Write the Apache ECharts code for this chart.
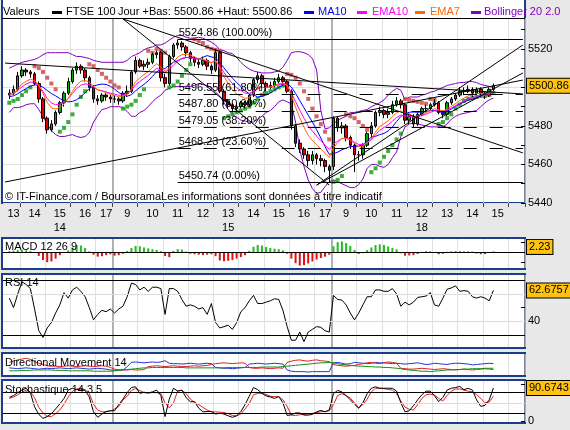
<!DOCTYPE html>
<html>
<head>
<meta charset="utf-8">
<script src="https://cdn.jsdelivr.net/npm/echarts@6/dist/echarts.min.js"></script>
<style>
html, body { margin: 0; padding: 0; background: #e8e8e8; }
#chart { width: 570px; height: 430px; }
</style>
</head>
<body>
<div id="chart"></div>
<script>
// 10 minute bars, three trading days
const sessions = [
  { day: '14', from: '13:20', to: '17:30', dayLabelHour: 15, labelUntil: 17 },
  { day: '15', from: '09:00', to: '17:30', dayLabelHour: 13, labelUntil: 17 },
  { day: '18', from: '09:00', to: '16:30', dayLabelHour: 12, labelUntil: 15 },
];
const firstBar = '14 13:30';

const opens = [
  5496, 5497, 5499, 5506, 5509, 5508, 5507, 5502, 5494, 5484,
  5478, 5481, 5487, 5492, 5497, 5503, 5509, 5511, 5509, 5505,
  5500, 5494, 5493, 5496, 5495, 5494, 5494, 5493, 5497, 5498,
  5508, 5514, 5511, 5512, 5513, 5517, 5518, 5505, 5502, 5516,
  5522, 5523, 5521, 5518, 5515, 5513, 5512, 5514, 5511, 5509,
  5518, 5498, 5493, 5491, 5489, 5490, 5492, 5491, 5496, 5504,
  5506, 5502, 5500, 5501, 5503, 5505, 5503, 5498, 5480, 5471,
  5468, 5465, 5462, 5465, 5463, 5462, 5459, 5459, 5484, 5479,
  5480, 5474, 5470, 5465, 5465, 5470, 5476, 5480, 5487, 5488,
  5486, 5487, 5491, 5493, 5491, 5483, 5485, 5481, 5486, 5489,
  5489, 5491, 5492, 5487, 5486, 5492, 5494, 5496, 5498, 5498,
  5499, 5497, 5499, 5497, 5496, 5499];
const closes = [
  5497, 5499, 5506, 5509, 5508, 5507, 5502, 5494, 5484, 5478,
  5481, 5487, 5492, 5497, 5503, 5509, 5511, 5509, 5505, 5500,
  5494, 5493, 5496, 5495, 5494, 5494, 5493, 5497, 5498, 5508,
  5514, 5511, 5512, 5513, 5517, 5518, 5505, 5502, 5516, 5522,
  5523, 5521, 5518, 5515, 5513, 5512, 5514, 5511, 5509, 5518,
  5498, 5493, 5491, 5489, 5490, 5492, 5491, 5496, 5504, 5506,
  5502, 5500, 5501, 5503, 5505, 5503, 5498, 5480, 5471, 5468,
  5465, 5462, 5465, 5463, 5462, 5459, 5457, 5484, 5479, 5480,
  5474, 5470, 5465, 5465, 5470, 5476, 5480, 5487, 5488, 5486,
  5487, 5491, 5493, 5491, 5483, 5485, 5481, 5486, 5489, 5489,
  5491, 5492, 5487, 5486, 5492, 5494, 5496, 5498, 5498, 5499,
  5497, 5499, 5497, 5496, 5499, 5500.86];
const lows = [
  5494, 5496, 5498, 5505, 5506, 5505, 5501, 5492, 5482, 5476,
  5477, 5480, 5486, 5490, 5496, 5502, 5507, 5507, 5503, 5498,
  5492, 5491, 5492, 5493, 5492, 5492, 5491, 5492, 5495, 5497,
  5507, 5510, 5509, 5510, 5512, 5515, 5503, 5500, 5501, 5515,
  5520, 5519, 5516, 5513, 5511, 5510, 5511, 5509, 5507, 5508,
  5497, 5491, 5489, 5487, 5487, 5489, 5489, 5490, 5495, 5502,
  5500, 5498, 5499, 5500, 5502, 5501, 5497, 5478, 5469, 5466,
  5463, 5459, 5460, 5460, 5459, 5456, 5450.74, 5457, 5477, 5476,
  5472, 5468, 5456, 5462, 5463, 5469, 5474, 5479, 5485, 5484,
  5484, 5486, 5490, 5489, 5481, 5481, 5479, 5480, 5485, 5487,
  5488, 5490, 5486, 5484, 5485, 5491, 5493, 5495, 5496, 5497,
  5495, 5496, 5495, 5494, 5495, 5498];
const highs = [
  5499, 5501, 5508, 5511, 5510, 5509, 5508, 5503, 5495, 5485,
  5483, 5488, 5493, 5498, 5505, 5510, 5513, 5512, 5510, 5506,
  5501, 5496, 5497, 5497, 5496, 5496, 5495, 5498, 5501, 5509,
  5516, 5515, 5514, 5515, 5518, 5519, 5519, 5507, 5517, 5523,
  5524.86, 5524, 5522, 5519, 5516, 5515, 5516, 5515, 5512, 5520,
  5519, 5499, 5494, 5492, 5492, 5493, 5493, 5497, 5505, 5508,
  5507, 5503, 5503, 5505, 5507, 5506, 5504, 5499, 5481, 5473,
  5469, 5467, 5467, 5466, 5465, 5463, 5460, 5485, 5485, 5482,
  5481, 5475, 5471, 5467, 5471, 5477, 5482, 5488, 5490, 5489,
  5489, 5493, 5495, 5494, 5492, 5487, 5486, 5487, 5490, 5491,
  5492, 5494, 5493, 5488, 5493, 5495, 5497, 5500, 5500, 5501,
  5500, 5500, 5500, 5498, 5500, 5502];

const ma10 = [
  5495.2, 5495.6, 5496.7, 5498.1, 5499.4, 5500.6, 5501.3, 5501.2, 5500.1, 5498.4,
  5496.8, 5495.6, 5494.2, 5493.0, 5492.5, 5492.7, 5493.6, 5495.1, 5497.2, 5499.4,
  5500.7, 5501.3, 5501.7, 5501.5, 5500.6, 5499.1, 5497.3, 5496.1, 5495.4, 5496.2,
  5498.2, 5500.0, 5501.6, 5503.4, 5505.7, 5508.1, 5509.3, 5509.8, 5511.6, 5513.0,
  5513.9, 5514.9, 5515.5, 5515.7, 5515.3, 5514.7, 5515.6, 5516.5, 5515.8, 5515.4,
  5512.9, 5510.1, 5507.4, 5504.8, 5502.5, 5500.5, 5498.2, 5496.7, 5496.2, 5495.0,
  5495.4, 5496.1, 5497.1, 5498.5, 5500.0, 5501.1, 5501.8, 5500.2, 5496.9, 5493.1,
  5489.4, 5485.6, 5482.0, 5478.0, 5473.7, 5469.3, 5465.2, 5465.6, 5466.4, 5467.6,
  5468.5, 5469.3, 5469.3, 5469.5, 5470.3, 5472.0, 5474.3, 5474.6, 5475.5, 5476.1,
  5477.4, 5479.5, 5482.3, 5484.9, 5486.2, 5487.1, 5487.2, 5487.1, 5487.2, 5487.5,
  5487.9, 5488.0, 5487.4, 5486.9, 5487.8, 5488.7, 5490.2, 5491.4, 5492.3, 5493.3,
  5493.9, 5494.6, 5495.6, 5496.6, 5497.3, 5498.0];
const ema10 = [
  5496.2, 5496.7, 5498.4, 5500.3, 5501.7, 5502.7, 5502.6, 5501.0, 5497.9, 5494.3,
  5491.9, 5491.0, 5491.2, 5492.2, 5494.2, 5496.8, 5499.4, 5501.1, 5501.8, 5501.5,
  5500.1, 5498.8, 5498.3, 5497.7, 5497.0, 5496.5, 5495.9, 5496.1, 5496.4, 5498.5,
  5501.3, 5503.1, 5504.7, 5506.2, 5508.1, 5509.9, 5509.0, 5507.8, 5509.3, 5511.6,
  5513.6, 5515.0, 5515.5, 5515.4, 5515.0, 5514.4, 5514.3, 5513.7, 5512.9, 5513.8,
  5511.0, 5507.7, 5504.7, 5501.9, 5499.8, 5498.4, 5497.0, 5496.8, 5498.1, 5499.5,
  5500.0, 5500.0, 5500.2, 5500.7, 5501.5, 5501.7, 5501.1, 5497.3, 5492.6, 5488.1,
  5484.0, 5480.0, 5477.3, 5474.7, 5472.4, 5470.0, 5467.7, 5470.6, 5472.1, 5473.5,
  5473.6, 5473.0, 5471.5, 5470.4, 5470.3, 5471.3, 5472.9, 5475.4, 5477.7, 5479.2,
  5480.6, 5482.5, 5484.4, 5485.6, 5485.1, 5485.1, 5484.4, 5484.7, 5485.4, 5486.1,
  5487.0, 5487.9, 5487.7, 5487.4, 5488.2, 5489.3, 5490.5, 5491.8, 5493.0, 5494.1,
  5494.6, 5495.4, 5495.7, 5495.7, 5496.3, 5497.1];
const ema7 = [
  5496.3, 5497.0, 5499.2, 5501.7, 5503.2, 5504.2, 5503.6, 5501.2, 5496.9, 5492.2,
  5489.4, 5488.8, 5489.6, 5491.4, 5494.3, 5498.0, 5501.2, 5503.2, 5503.6, 5502.7,
  5500.6, 5498.7, 5498.0, 5497.2, 5496.4, 5495.8, 5495.1, 5495.6, 5496.2, 5499.2,
  5502.9, 5504.9, 5506.7, 5508.2, 5510.4, 5512.3, 5510.5, 5508.4, 5510.3, 5513.2,
  5515.7, 5517.0, 5517.2, 5516.7, 5515.8, 5514.8, 5514.6, 5513.7, 5512.5, 5513.9,
  5509.9, 5505.7, 5502.0, 5498.8, 5496.6, 5495.4, 5494.3, 5494.7, 5497.1, 5499.3,
  5500.0, 5500.0, 5500.2, 5500.9, 5501.9, 5502.2, 5501.2, 5495.9, 5489.7, 5484.2,
  5479.4, 5475.1, 5472.5, 5470.2, 5468.1, 5465.8, 5463.6, 5468.7, 5471.3, 5473.5,
  5473.6, 5472.7, 5470.8, 5469.3, 5469.5, 5471.1, 5473.3, 5476.8, 5479.6, 5481.2,
  5482.6, 5484.7, 5486.8, 5487.8, 5486.6, 5486.2, 5484.9, 5485.2, 5486.1, 5486.8,
  5487.9, 5488.9, 5488.4, 5487.8, 5488.9, 5490.2, 5491.6, 5493.2, 5494.4, 5495.6,
  5495.9, 5496.7, 5496.8, 5496.6, 5497.2, 5498.1];
const bollUp = [
  5510, 5511, 5512, 5513, 5513.5, 5514, 5514.5, 5515.5, 5517, 5518,
  5518, 5518, 5518, 5518, 5518, 5517, 5516, 5516, 5515.5, 5515,
  5514, 5513.5, 5513, 5513, 5513, 5513, 5513, 5513, 5514, 5516,
  5517, 5518, 5519.5, 5520.5, 5521, 5522, 5522, 5523, 5524.5, 5526,
  5527, 5527, 5526, 5525.5, 5525.5, 5526, 5525.5, 5524.5, 5523.5, 5522,
  5519.5, 5519, 5518, 5517.5, 5515.5, 5513, 5511, 5509.5, 5508.5, 5508,
  5507.5, 5507.5, 5507.5, 5508, 5508.5, 5510.5, 5514, 5518, 5518.5, 5518.5,
  5518, 5517, 5515, 5509, 5488, 5478.5, 5479, 5481, 5483, 5484,
  5485, 5487, 5487, 5487.5, 5488, 5488.5, 5490, 5491, 5492, 5493.5,
  5496, 5498, 5499.5, 5498.5, 5493.5, 5495, 5495, 5495, 5496, 5496.5,
  5497.5, 5498, 5499, 5500, 5501, 5501.5, 5502, 5502.5, 5502.5, 5503,
  5503, 5502.5, 5501.5, 5501, 5500.5, 5500];
const bollLow = [
  5487, 5489.5, 5489.5, 5490, 5491, 5491.5, 5491.5, 5488.5, 5485, 5481,
  5477.5, 5475.5, 5474.5, 5474.5, 5475, 5475.5, 5474.5, 5474, 5474.5, 5476.5,
  5482, 5485.5, 5488.5, 5489, 5490, 5490, 5490, 5489.5, 5487.5, 5485,
  5485, 5487, 5488, 5490, 5492.5, 5494.5, 5496, 5498.5, 5499.5, 5500.5,
  5500.5, 5500.5, 5500.5, 5500.5, 5501, 5502, 5501.5, 5501, 5500, 5497.5,
  5495.5, 5492, 5488.5, 5486, 5484.5, 5483, 5482.5, 5482, 5482, 5483.5,
  5485, 5487, 5488, 5490, 5492.5, 5493.5, 5492.5, 5491.5, 5482, 5467.5,
  5459, 5452, 5447.5, 5445, 5445.5, 5448.5, 5451, 5452, 5451, 5450,
  5449, 5448, 5448, 5449.5, 5452.5, 5458, 5460, 5460, 5459, 5458.5,
  5460, 5463.5, 5466.5, 5474.5, 5479.5, 5481, 5481.5, 5481, 5480.5, 5480,
  5479.5, 5479.5, 5479.5, 5479.5, 5481, 5483.5, 5485, 5486, 5486.5, 5487,
  5487.5, 5488, 5490, 5492, 5493.5, 5494.5];
// parabolic SAR
const sar = [
  5492, 5493, 5494, 5496, 5498, 5500, 5511, 5510, 5508, 5505,
  5502, 5499, 5477, 5479, 5482, 5486, 5491, 5495, 5498, 5512,
  5511, 5509, 5507, 5505, 5503, 5501, 5500, 5489, 5490, 5491,
  5493, 5496, 5499, 5519, 5518, 5520, 5519, 5518, 5500, 5501,
  5503, 5506, 5509, 5512, 5525, 5524, 5523, 5521, 5520, 5519.5,
  5519, 5484, 5485, 5486, 5487, 5488, 5489, 5490, 5492, 5494,
  5496, 5497, 5498, 5499, 5500, 5501, 5507, 5506.5, 5505, 5502,
  5498, 5494, 5489, 5485, 5481, 5477, 5473, 5451, 5452, 5454,
  5486, 5485, 5484, 5482, 5480, 5478, 5456, 5458, 5461, 5464,
  5467, 5470, 5473, 5476, 5494, 5493.5, 5493, 5492.5, 5492, 5491.5,
  5494, 5493.5, 5481, 5482, 5484, 5486, 5489, 5491, 5493, 5494,
  5494.5, 5495, 5495.5, 5495.5, 5496, 5497];

const fibLevels = [5524.86, 5496.55, 5487.80, 5479.05, 5468.23, 5450.74];
const fibPct = ['100.00%', '61.80%', '50.00%', '38.20%', '23.60%', '0.00%'];
const fibFrom = '15 11:30';
// trend lines: [from category, value, to category, value]
const trendLines = [
  ['14 13:20', 5512.6, '18 16:30', 5496.6],
  ['14 13:20', 5450.9, '18 16:30', 5503.8],
  ['15 09:20', 5535.5, '18 16:30', 5466.0],
  ['15 09:20', 5535.5, '15 17:30', 5449.3],
  ['15 17:00', 5449.3, '18 16:30', 5522.0],
  ['15 17:00', 5449.3, '18 16:30', 5507.5],
];

const macdHist = [
  0.5, 0.7, 0.9, 1.0, 0.8, 0.5, 0.1, -1.5, -3.2, -4.1,
  -3.8, -2.6, -1.2, -0.3, 0.8, 2.0, 3.0, 2.8, 1.8, 0.4,
  -1.0, -1.8, -1.6, -1.2, -0.8, -1.4, -1.2, -0.6, 0.6, 1.8,
  2.6, 2.5, 2.0, 1.6, 1.3, 1.0, 0.5, -1.5, -2.0, 0.6,
  1.3, 1.1, 0.3, -0.6, -0.8, -1.0, -1.2, -1.0, -0.8, -1.6,
  -3.4, -3.7, -3.5, -3.2, -2.6, -2.0, -1.2, 0.6, 2.3, 3.0,
  2.8, 2.2, 1.8, 1.5, 1.3, 0.8, -0.6, -2.6, -4.5, -5.5,
  -5.3, -4.6, -3.8, -3.0, -2.4, -1.8, -1.0, 2.5, 4.2, 4.5,
  3.8, 2.6, 1.0, -0.7, -0.4, 0.9, 2.0, 3.0, 3.3, 3.0,
  2.4, 1.8, 1.2, -0.4, -1.4, -1.3, -1.2, -0.7, 0.2, 0.5,
  0.4, -0.3, -0.8, -0.6, 0.2, 0.4, 0.5, 0.5, 0.4, 0.4,
  0.3, -0.5, -0.8, -0.7, -0.3, 0.4];
const macdLast = 2.23;
const rsi = [
  57, 50, 60, 69, 67, 64, 49, 33, 28, 35,
  39, 46, 52, 61, 57, 63, 65, 62, 58, 50,
  41, 45, 48, 47, 49, 46, 49, 51, 58, 68,
  67, 63, 65, 62, 65, 65, 64, 45, 64, 64,
  62, 56, 51, 52, 51, 49, 50, 45, 53, 39,
  35, 36, 37, 34, 39, 47, 50, 55, 59, 53,
  53, 54, 55, 56.5, 56, 48, 36, 26, 26, 32,
  25, 32, 34, 36, 35.5, 33, 32, 59, 56, 55.5,
  52, 46, 41, 46, 52, 58, 58, 63, 63, 62,
  62, 64, 60, 51, 54, 52, 54, 57.5, 58, 58.5,
  61, 52, 51, 57, 63.5, 64.5, 66, 62, 62.5, 62,
  58, 57, 58, 57, 55, 62.6757];
const diPlus = [
  17, 16, 15, 16, 17, 16, 15, 14, 15, 16, 15, 16, 17, 16, 15, 16, 17, 16, 15, 14, 15, 16, 15, 14,
  12, 11, 12, 12, 20,
  30, 31, 30, 29, 30, 31, 30, 31, 34,
  28, 27, 27, 26, 27, 28, 27, 26, 27, 28, 27,
  18, 17, 16, 16, 15, 16, 17, 18,
  26, 27, 28, 27, 26, 27, 28, 27, 26,
  12, 9, 8, 8, 8, 7, 8, 8, 8, 8, 8,
  29, 30, 28, 26, 27, 30, 29, 28, 27, 28, 30, 29, 29, 28, 27, 28, 27, 26, 27, 28,
  29, 27, 25, 26, 28, 27, 26, 25, 27, 28, 28, 27, 26, 24, 25, 26, 27, 28, 27];
const diMinus = [
  30, 33, 36, 38, 40, 37, 32,
  28, 25, 22, 21, 21, 20, 21, 22, 21, 20, 21, 22, 21, 20, 21, 22, 21,
  18, 14, 12, 12, 12, 13, 12, 12, 13,
  20, 21, 22, 21, 20, 21, 22, 21, 20, 20, 21, 22, 21, 22, 23,
  25, 27, 28, 29, 28, 27, 28, 29, 28,
  18, 16, 16, 17, 16, 15, 16, 17, 16,
  30, 33, 35, 36, 34, 33, 35, 36, 34, 33, 32,
  25, 23, 22, 21, 22, 23, 25,
  27, 29, 30, 28, 27, 29, 31, 30, 28,
  16, 15, 14, 14, 15, 16, 15, 14, 13, 14, 15, 14, 13, 12, 13, 14, 13, 12, 13, 14, 15, 14, 13];
const adx = [
  10, 10, 10, 11, 11, 11, 12, 12, 12, 12, 12, 11, 11, 11, 10, 10, 10, 10, 10, 10, 9, 9, 9, 9, 9, 10, 11, 12,
  13, 14, 15, 16, 17, 17, 18, 18, 18, 18, 18, 18, 18, 18, 17, 17, 17, 17, 17, 17, 17, 17, 17, 17,
  18, 18, 18, 18, 18, 18, 18, 18, 19, 19, 19, 19, 19, 20, 21,
  22, 23, 24, 25, 26, 27, 28, 29, 29, 30,
  29, 27, 25, 24, 23, 22, 21, 21, 20, 20, 19, 19, 18, 18, 17, 16,
  15, 13, 12, 11, 10, 9, 9, 8, 9,
  10, 11, 12, 12, 13, 13, 14, 14, 15, 15, 15, 16, 16, 16];
const stochK = [
  65, 70, 78, 85, 90, 78, 39, 18, 7, 12,
  20, 33, 47, 62, 85, 90, 86, 88, 84, 66,
  25, 10, 19, 26, 28, 28, 45, 60, 78, 92,
  94, 76, 79, 77, 80, 85, 70, 12, 60, 90,
  82, 85, 64, 53, 53, 35, 25, 26, 26, 19,
  21, 19, 14, 10, 14, 26, 45, 68, 92, 86,
  76, 69, 66, 62, 67, 50, 15, 17, 22, 22,
  16, 16, 18, 25, 29, 25, 30, 75, 84, 80,
  70, 58, 46, 35, 50, 75, 90, 94, 90, 90,
  90, 90, 82, 50, 25, 28, 42, 58, 72, 82,
  82, 70, 53, 65, 85, 90, 92, 95, 86, 90,
  85, 58, 40, 43, 58, 90.6743];
const stochD = [
  62, 66, 72, 79, 85, 80, 64, 37, 22, 13,
  12, 20, 30, 46, 66, 82, 88, 90, 86, 76,
  46, 30, 25, 25, 27, 33, 40, 58, 68, 84,
  89, 84, 78, 77, 78, 78, 75, 50, 36, 50,
  83, 84, 76, 60, 51, 45, 37, 30, 25, 25,
  24, 23, 20, 15, 14, 19, 33, 48, 72, 76,
  76, 73, 68, 67, 67, 58, 40, 16, 15, 17,
  18, 19, 21, 23, 25, 26, 28, 45, 70, 75,
  70, 63, 50, 36, 45, 60, 80, 90, 90, 89,
  87, 85, 75, 55, 38, 32, 30, 45, 62, 72,
  74, 71, 62, 55, 70, 82, 88, 88, 85, 82,
  80, 73, 62, 50, 52, 68];

// ---- axis categories built from the sessions
const categories = [];
const hourStart = new Set();
const dayStart = new Set();
const labelText = {};
sessions.forEach((s, k) => {
  let [h, m] = s.from.split(':').map(Number);
  const [eh, em] = s.to.split(':').map(Number);
  const byHour = {};
  let first = true;
  while (h * 60 + m <= eh * 60 + em) {
    const idx = categories.length;
    categories.push(`${s.day} ${String(h).padStart(2, '0')}:${String(m).padStart(2, '0')}`);
    if (m === 0) hourStart.add(idx);
    if (k > 0 && first) dayStart.add(idx);
    first = false;
    (byHour[h] = byHour[h] || []).push(idx);
    m += 10;
    if (m === 60) { m = 0; h += 1; }
  }
  Object.keys(byHour).forEach((key) => {
    const hh = Number(key);
    if (hh > s.labelUntil) return;
    const list = byHour[key];
    labelText[list[Math.floor(list.length / 2)]] = String(hh) + (hh === s.dayLabelHour ? '\n' + s.day : '');
  });
});
const offset = categories.indexOf(firstBar);
const onAxis = (arr) => categories.map((c, i) => (i >= offset && i - offset < arr.length ? arr[i - offset] : '-'));

const FONT = 'Liberation Sans';
const BLUE_BORDER = '#1c3c8c';
const TAG = '#ffc20e';

const panels = [
  { top: 18, height: 185 },
  { top: 239, height: 29 },
  { top: 275, height: 72 },
  { top: 354, height: 21 },
  { top: 381, height: 41 },
];

const grid = panels.map((p) => ({ left: 3, width: 522, top: p.top, height: p.height }));

const xAxis = [];
panels.forEach((p, k) => {
  xAxis.push({
    type: 'category', gridIndex: k, data: categories, boundaryGap: true,
    axisLine: { show: false },
    axisTick: k === 0
      ? { show: true, interval: (i) => hourStart.has(i), length: 4, lineStyle: { color: '#444' } }
      : { show: false },
    axisLabel: k === 0
      ? {
        show: true, interval: (i) => labelText[i] !== undefined,
        formatter: (v, i) => labelText[i], fontSize: 11, lineHeight: 14, margin: 4, color: '#000',
      }
      : { show: false },
    splitLine: { show: true, interval: (i) => hourStart.has(i), lineStyle: { color: '#e0e0e0', width: 1 } },
  });
  xAxis.push({
    type: 'category', gridIndex: k, data: categories, boundaryGap: true,
    axisLine: { show: false }, axisTick: { show: false }, axisLabel: { show: false },
    splitLine: { show: true, interval: (i) => dayStart.has(i), lineStyle: { color: '#9c9c9c', width: 1.5 } },
  });
});

const sideLabel = { fontSize: 11, color: '#000', margin: 3 };
const innerTick = { show: true, inside: true, length: 4, lineStyle: { color: '#000' } };
const yAxis = [
  {
    type: 'value', gridIndex: 0, position: 'right', min: 5440, max: 5536, interval: 10,
    axisLine: { show: false }, axisTick: innerTick, splitLine: { show: false },
    axisLabel: { ...sideLabel, formatter: (v) => (v % 20 === 0 ? String(v) : '') },
  },
  {
    type: 'value', gridIndex: 0, min: 5440, max: 5536, interval: 20,
    axisLine: { show: false }, axisTick: { show: false }, axisLabel: { show: false },
    splitLine: { show: true, lineStyle: { color: '#e0e0e0' } },
  },
  {
    type: 'value', gridIndex: 1, position: 'right', min: -6.5, max: 5.5,
    axisLine: { show: false }, splitLine: { show: false },
    axisTick: { ...innerTick, customValues: [-4, 0, 4] },
    axisLabel: { ...sideLabel, customValues: [0] },
  },
  {
    type: 'value', gridIndex: 2, position: 'right', min: 21, max: 74,
    axisLine: { show: false }, splitLine: { show: false },
    axisTick: { ...innerTick, customValues: [40, 50, 60] },
    axisLabel: { ...sideLabel, customValues: [40] },
  },
  {
    type: 'value', gridIndex: 3, position: 'right', min: 0, max: 50,
    axisLine: { show: false }, splitLine: { show: false }, axisTick: { show: false }, axisLabel: { show: false },
  },
  {
    type: 'value', gridIndex: 4, position: 'right', min: -3, max: 110,
    axisLine: { show: false }, splitLine: { show: false },
    axisTick: { ...innerTick, customValues: [0, 50, 100] },
    axisLabel: { ...sideLabel, customValues: [0] },
  },
];

// value tag at the right of a panel
const tagLine = (value, text) => ({
  yAxis: value,
  lineStyle: { color: 'rgba(0,0,0,0)', width: 1 },
  label: {
    show: true, position: 'end', distance: 2, formatter: text,
    backgroundColor: TAG, borderColor: '#000', borderWidth: 1, padding: [2, 2, 1, 2],
    color: '#000', fontSize: 11, fontFamily: FONT,
  },
});
const hLine = (value, color) => ({ yAxis: value, lineStyle: { color, width: 1, type: 'solid' }, label: { show: false } });

const lastCat = categories[categories.length - 1];
const fibMarks = fibLevels.map((v, k) => [
  {
    coord: [fibFrom, v],
    lineStyle: { color: '#000', width: 1, type: (k === 0 || k === fibLevels.length - 1) ? 'solid' : [13, 13] },
    label: {
      show: true, position: 'insideStartTop', distance: 1,
      formatter: `${v.toFixed(2)} (${fibPct[k]})`, color: '#000', fontSize: 11, fontFamily: FONT,
    },
  },
  { coord: [lastCat, v] },
]);
const trendMarks = trendLines.map(([c1, v1, c2, v2]) => [
  { coord: [c1, v1], lineStyle: { color: '#000', width: 1, type: 'solid' }, label: { show: false } },
  { coord: [c2, v2] },
]);

const thin = (name, data, color, xi, yi, z) => ({
  name, type: 'line', data: onAxis(data), xAxisIndex: xi, yAxisIndex: yi,
  symbol: 'none', lineStyle: { color, width: 1 }, z: z || 3, silent: true,
});

const series = [
  {
    name: 'fib', type: 'line', data: onAxis([]), xAxisIndex: 0, yAxisIndex: 0, z: 1, silent: true,
    markLine: { symbol: 'none', silent: true, animation: false, data: fibMarks.concat(trendMarks) },
  },
  thin('BollUp', bollUp, '#8000c0', 0, 0, 2),
  thin('BollLow', bollLow, '#8000c0', 0, 0, 2),
  {
    name: 'SAR', type: 'scatter', data: onAxis(sar), xAxisIndex: 0, yAxisIndex: 0, z: 2,
    symbol: 'rect', symbolSize: 4, silent: true,
    itemStyle: {
      color: (p) => {
        const d = p.dataIndex - offset;
        return sar[d] > closes[d] ? '#cc4040' : '#0a9a0a';
      },
    },
  },
  {
    name: 'FTSE 100', type: 'candlestick', xAxisIndex: 0, yAxisIndex: 0, z: 3, barWidth: 3,
    data: onAxis(opens.map((o, k) => [o, closes[k], lows[k], highs[k]])),
    itemStyle: { color: '#00b000', color0: '#e00000', borderColor: '#000', borderColor0: '#000', borderWidth: 1 },
  },
  thin('MA10', ma10, '#0000ff', 0, 0, 4),
  thin('EMA10', ema10, '#ff00ff', 0, 0, 4),
  thin('EMA7', ema7, '#ff6600', 0, 0, 4),
  {
    name: 'last', type: 'line', data: onAxis([]), xAxisIndex: 0, yAxisIndex: 0, z: 10, silent: true,
    markLine: { symbol: 'none', silent: true, animation: false, data: [tagLine(closes[closes.length - 1], closes[closes.length - 1].toFixed(2))] },
  },
  {
    name: 'MACD', type: 'bar', data: onAxis(macdHist), xAxisIndex: 2, yAxisIndex: 2, barWidth: 2, silent: true,
    itemStyle: { color: (p) => (p.value >= 0 ? '#22bb22' : '#dd1111') },
    markLine: { symbol: 'none', silent: true, animation: false, data: [hLine(0, '#000'), tagLine(macdLast, macdLast.toFixed(2))] },
  },
  {
    ...thin('RSI', rsi, '#000', 4, 3),
    markLine: {
      symbol: 'none', silent: true, animation: false,
      data: [hLine(40, '#dcdcdc'), hLine(60, '#dcdcdc'), hLine(70, '#000'), hLine(30, '#000'), tagLine(rsi[rsi.length - 1], String(rsi[rsi.length - 1]))],
    },
  },
  thin('DI+', diPlus, '#2233dd', 6, 4),
  thin('DI-', diMinus, '#dd2222', 6, 4),
  thin('ADX', adx, '#109010', 6, 4),
  {
    ...thin('%K', stochK, '#000', 8, 5, 4),
    markLine: {
      symbol: 'none', silent: true, animation: false,
      data: [hLine(50, '#dcdcdc'), hLine(80, '#000'), hLine(20, '#000'), tagLine(stochK[stochK.length - 1], String(stochK[stochK.length - 1]))],
    },
  },
  thin('%D', stochD, '#dd2222', 8, 5, 3),
];

// panel frames, header and captions
const txt = (text, x, y, fill) => ({
  type: 'text', x, y, z: 20, silent: true,
  style: { text, fill: fill || '#000', font: `11px "${FONT}"`, verticalAlign: 'middle' },
});
const mark = (x, color) => ({ type: 'rect', z: 20, silent: true, shape: { x, y: 11, width: 10, height: 3 }, style: { fill: color } });
const frames = [
  { y: -2, h: 205 }, { y: 238, h: 31 }, { y: 274, h: 74 }, { y: 353, h: 23 }, { y: 380, h: 43 },
].map((f) => ({
  type: 'rect', z: -10, silent: true,
  shape: { x: 2, y: f.y, width: 523, height: f.h },
  style: { fill: '#fff', stroke: BLUE_BORDER, lineWidth: 2 },
}));

const graphic = frames.concat([
  { type: 'line', z: 20, silent: true, shape: { x1: 2, y1: 18.5, x2: 525, y2: 18.5 }, style: { stroke: '#000', lineWidth: 1 } },
  txt('Valeurs', 3, 12),
  mark(52, '#000'),
  txt('FTSE 100', 66, 12),
  txt('Jour +Bas: 5500.86 +Haut: 5500.86', 118, 12),
  mark(304, '#0000ff'), txt('MA10', 318, 12, '#0000ff'),
  mark(357, '#ff00ff'), txt('EMA10', 372, 12, '#ff00ff'),
  mark(415, '#ff6600'), txt('EMA7', 430, 12, '#ff6600'),
  mark(471, '#8000c0'), txt('Bollinger 20 2.0', 484, 12, '#8000c0'),
  txt('© IT-Finance.com / BoursoramaLes informations sont données à titre indicatif', 5, 197),
  txt('MACD 12 26 9', 5, 247),
  txt('RSI 14', 5, 283),
  txt('Directional Movement 14', 5, 363),
  txt('Stochastique 14 3 5', 5, 390),
]);

const chart = echarts.init(document.getElementById('chart'));
chart.setOption({
  animation: false,
  backgroundColor: '#e8e8e8',
  textStyle: { fontFamily: FONT },
  grid,
  xAxis,
  yAxis,
  series,
  graphic,
});
</script>
</body>
</html>
